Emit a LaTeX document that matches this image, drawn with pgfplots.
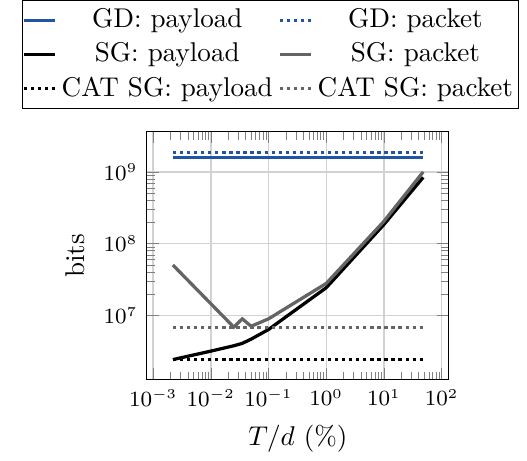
\documentclass[border=0pt]{standalone}
\usepackage{pgfplots}
\pgfplotsset{compat=1.18}
\definecolor{gdblue}{RGB}{34,84,164}
\definecolor{sggray}{RGB}{100,100,100}
\begin{document}
\begin{tikzpicture}
\begin{axis}[
  scale only axis,
  width=111.4pt, height=91.5pt,
  xmode=log, ymode=log,
  xmin=7.8e-4, xmax=134,
  ymin=1.27e6, ymax=3.6e9,
  xtick={1e-3,1e-2,1e-1,1,10,100},
  ytick={1e7,1e8,1e9},
  grid=major,
  major grid style={gray!35, line width=0.5pt},
  tick label style={font=\fontsize{7.7}{9}\selectfont},
  xlabel={$T/d$ (\%)},
  ylabel={bits},
  label style={font=\normalsize},
  legend columns=2,
  legend cell align=center,
  legend image code/.code={\draw[mark repeat=2,mark phase=2,#1] plot coordinates {(0cm,0cm) (0.2cm,0cm) (0.4cm,0cm)};},
  legend style={at={(0.5,1)}, anchor=south, yshift=8.5pt, xshift=-10.2pt, font=\normalsize, inner xsep=0pt, inner ysep=1pt, /tikz/every even column/.append style={column sep=0pt}},
  every axis plot/.append style={line width=1.2pt},
  dots/.style={dash pattern=on 1.2pt off 1.4pt},
]
\addplot[gdblue, no marks] coordinates {(0.0022,1.6e9) (48,1.6e9)};
\addlegendentry{GD: payload}
\addplot[gdblue, dots, no marks] coordinates {(0.0022,1.86e9) (48,1.86e9)};
\addlegendentry{GD: packet}
\addplot[black, no marks] coordinates {
(0.0022,2.44e6) (0.01,3.2e6) (0.025,3.8e6) (0.035,4.1e6) (0.05,4.7e6) (0.1,6.4e6) (1,2.44e7) (10,1.85e8) (48,8.4e8)};
\addlegendentry{SG: payload}
\addplot[sggray, no marks] coordinates {
(0.0022,5.05e7) (0.025,6.9e6) (0.035,9.0e6) (0.05,7.1e6) (0.1,9.0e6) (1,2.8e7) (10,2.05e8) (48,1.0e9)};
\addlegendentry{SG: packet}
\addplot[black, dots, no marks] coordinates {(0.0022,2.44e6) (48,2.44e6)};
\addlegendentry{CAT SG: payload}
\addplot[sggray, dots, no marks] coordinates {(0.0022,6.8e6) (48,6.8e6)};
\addlegendentry{CAT SG: packet}
\end{axis}
\path (current axis.south west) ++(-54.2pt,-23.9pt);
\path (current axis.north east) ++(28.8pt,0pt);
\end{tikzpicture}
\end{document}
